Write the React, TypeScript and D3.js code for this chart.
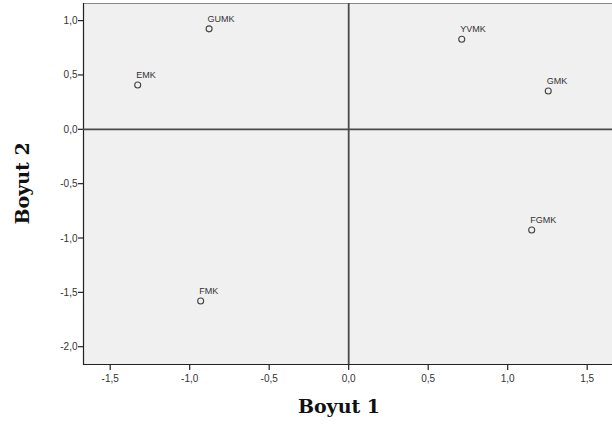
import React from "react";
import * as d3 from "d3";

const labels = ["GUMK", "EMK", "YVMK", "GMK", "FGMK", "FMK"];
const dim1 = [-0.878, -1.327, 0.711, 1.255, 1.151, -0.931];
const dim2 = [0.924, 0.408, 0.828, 0.352, -0.926, -1.58];
const xTicks = [-1.5, -1.0, -0.5, 0.0, 0.5, 1.0, 1.5];
const yTicks = [1.0, 0.5, 0.0, -0.5, -1.0, -1.5, -2.0];

const W = 612;
const H = 425;
const left = 83;
const right = 612;
const top = 3;
const bottom = 364;

const fmt = (v: number) => v.toFixed(1).replace(".", ",");

export default function App() {
  const x = d3.scaleLinear().domain([-1.671, 1.656]).range([left, right]);
  const y = d3.scaleLinear().domain([1.162, -2.159]).range([top, bottom]);
  const tickFont = "'Liberation Sans', Arial, sans-serif";
  const titleFont = "'DejaVu Serif', serif";

  return (
    <svg
      width={W}
      height={H}
      style={{ position: "absolute", left: 0, top: 0, background: "#fff" }}
    >
      <rect x={left} y={top} width={right - left} height={bottom - top} fill="#f0f0f0" />
      {/* frame */}
      <line x1={left} x2={right} y1={top + 0.5} y2={top + 0.5} stroke="#888" strokeWidth={1} />
      <line x1={left + 0.5} x2={left + 0.5} y1={top} y2={bottom + 1} stroke="#222" strokeWidth={1.2} />
      <line x1={left} x2={right} y1={bottom + 0.5} y2={bottom + 0.5} stroke="#222" strokeWidth={1.2} />
      {/* zero reference lines */}
      <line x1={left} x2={right} y1={y(0)} y2={y(0)} stroke="#4a4a4a" strokeWidth={1.8} />
      <line x1={x(0)} x2={x(0)} y1={top} y2={bottom} stroke="#4a4a4a" strokeWidth={1.8} />
      {/* y ticks */}
      {yTicks.map((t) => (
        <g key={"y" + t}>
          <line x1={left - 5} x2={left} y1={y(t)} y2={y(t)} stroke="#222" strokeWidth={1.2} />
          <text
            x={left - 5.5}
            y={y(t) + 3.5}
            textAnchor="end"
            fontFamily={tickFont}
            fontSize={10}
            fill="#333"
          >
            {fmt(t)}
          </text>
        </g>
      ))}
      {/* x ticks */}
      {xTicks.map((t) => (
        <g key={"x" + t}>
          <line x1={x(t)} x2={x(t)} y1={bottom} y2={bottom + 6} stroke="#222" strokeWidth={1.2} />
          <text
            x={x(t)}
            y={bottom + 17.5}
            textAnchor="middle"
            fontFamily={tickFont}
            fontSize={10}
            fill="#333"
          >
            {fmt(t)}
          </text>
        </g>
      ))}
      {/* points */}
      {labels.map((l, i) => (
        <g key={l}>
          <circle
            cx={x(dim1[i])}
            cy={y(dim2[i])}
            r={3}
            fill="none"
            stroke="#444"
            strokeWidth={1.1}
          />
          <text
            x={x(dim1[i]) - 1.5}
            y={y(dim2[i]) - 7}
            fontFamily={tickFont}
            fontSize={9}
            fill="#333"
          >
            {l}
          </text>
        </g>
      ))}
      {/* axis titles */}
      <text
        x={339}
        y={413}
        textAnchor="middle"
        fontFamily={titleFont}
        fontWeight="bold"
        fontSize={19}
        fill="#111"
      >
        Boyut 1
      </text>
      <text
        transform={`translate(29, ${(top + bottom) / 2}) rotate(-90)`}
        textAnchor="middle"
        fontFamily={titleFont}
        fontWeight="bold"
        fontSize={19}
        fill="#111"
      >
        Boyut 2
      </text>
    </svg>
  );
}
